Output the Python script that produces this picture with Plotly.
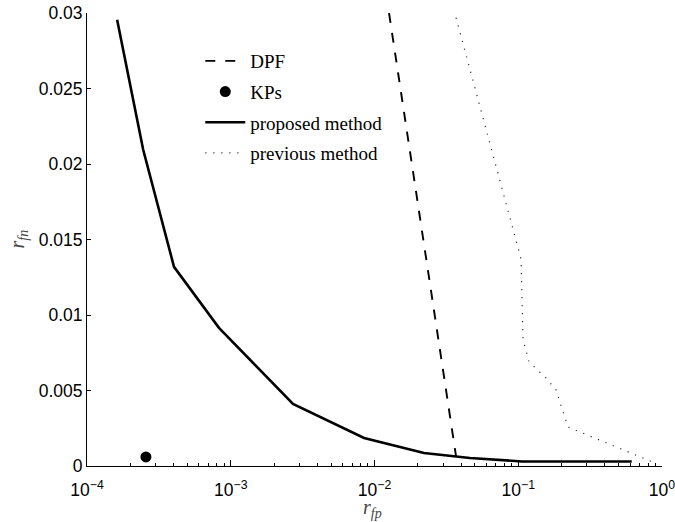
import plotly.graph_objects as go

# ---- data ----
dpf_x = [0.01262, 0.0369]
dpf_y = [0.0300, 0.00066]

kps_x = [2.57e-4]
kps_y = [0.0006]

proposed_x = [1.62e-4, 2.46e-4, 4.03e-4, 8.28e-4, 2.71e-3, 8.46e-3, 2.21e-2, 4.61e-2, 1.065e-1, 6.16e-1]
proposed_y = [0.02955, 0.02094, 0.01319, 0.00915, 0.00411, 0.00186, 0.00086, 0.00053, 0.00030, 0.00030]

previous_x = [0.0369, 0.1045, 0.108, 0.119, 0.156, 0.183, 0.222, 0.248, 0.893]
previous_y = [0.02969, 0.01372, 0.00835, 0.00689, 0.00583, 0.00504, 0.00258, 0.00239, 0.0002]

x_tickvals = [1e-4, 1e-3, 1e-2, 1e-1, 1e0]
x_ticktext = ["10<sup>\u22124</sup>", "10<sup>\u22123</sup>", "10<sup>\u22122</sup>", "10<sup>\u22121</sup>", "10<sup>0</sup>"]
y_tickvals = [0, 0.005, 0.01, 0.015, 0.02, 0.025, 0.03]
y_ticktext = ["0", "0.005", "0.01", "0.015", "0.02", "0.025", "0.03"]

x_title = "<i>r</i><sub><i>fp</i></sub>"
y_title = "<i>r</i><sub><i>fn</i></sub>"

minor_vals = [m * 10.0 ** e for e in range(-4, 0) for m in range(2, 10)]

fig = go.Figure()
fig.add_trace(go.Scatter(x=dpf_x, y=dpf_y, mode="lines", name="DPF", legendgroup="a",
                         line=dict(color="black", width=1.9, dash="10px,10px")))
fig.add_trace(go.Scatter(x=kps_x, y=kps_y, mode="markers", name="KPs", legendgroup="b",
                         marker=dict(color="black", size=11)))
fig.add_trace(go.Scatter(x=proposed_x, y=proposed_y, mode="lines", name="proposed method", legendgroup="c",
                         line=dict(color="black", width=2.6)))
fig.add_trace(go.Scatter(x=previous_x, y=previous_y, mode="lines", name="previous method", legendgroup="d",
                         line=dict(color="#333333", width=1.2, dash="1.2px,6.8px")))

tickfont = dict(family="Liberation Sans, Arial, sans-serif", size=17.5, color="black")
titlefont = dict(family="Liberation Serif, DejaVu Serif, serif", size=20, color="#444444")

# figure slightly wider than the window so the "10^0" label is not dropped; page margin removed below
fig.update_layout(
    width=700, height=522,
    margin=dict(l=87, r=38, t=13, b=56),
    paper_bgcolor="white", plot_bgcolor="white",
    showlegend=True,
    legend=dict(x=0.197, y=0.936, xanchor="left", yanchor="top",
                bgcolor="rgba(0,0,0,0)", borderwidth=0,
                tracegroupgap=3, itemwidth=40,
                font=dict(family="Liberation Serif, Times New Roman, serif", size=19, color="black")),
    xaxis=dict(type="log", range=[-4, 0], showgrid=False, zeroline=False, automargin=False,
               showline=True, linecolor="black", linewidth=1, mirror=False,
               ticks="inside", ticklen=6, tickcolor="black", tickwidth=1,
               tickvals=x_tickvals, ticktext=x_ticktext, tickfont=tickfont, ticklabelstandoff=8,
               minor=dict(ticks="inside", ticklen=3, tickcolor="black", tickwidth=1, tickvals=minor_vals)),
    yaxis=dict(range=[0, 0.03], showgrid=False, zeroline=False, automargin=False,
               showline=True, linecolor="black", linewidth=1, mirror=False,
               ticks="inside", ticklen=4, tickcolor="black", tickwidth=1,
               tickvals=y_tickvals, ticktext=y_ticktext, tickfont=tickfont),
    annotations=[
        dict(text=x_title, xref="paper", yref="paper", x=0.497, y=0, xanchor="center", yanchor="middle",
             yshift=-42, showarrow=False, font=titlefont),
        dict(text=y_title, xref="paper", yref="paper", x=0, y=0.5, xanchor="center", yanchor="middle",
             xshift=-69, textangle=-90, showarrow=False, font=titlefont),
    ],
)

fig.write_html(
    "out.html",
    config={"displayModeBar": False},
    post_script="document.body.style.margin='0';document.body.style.overflow='hidden';",
)
